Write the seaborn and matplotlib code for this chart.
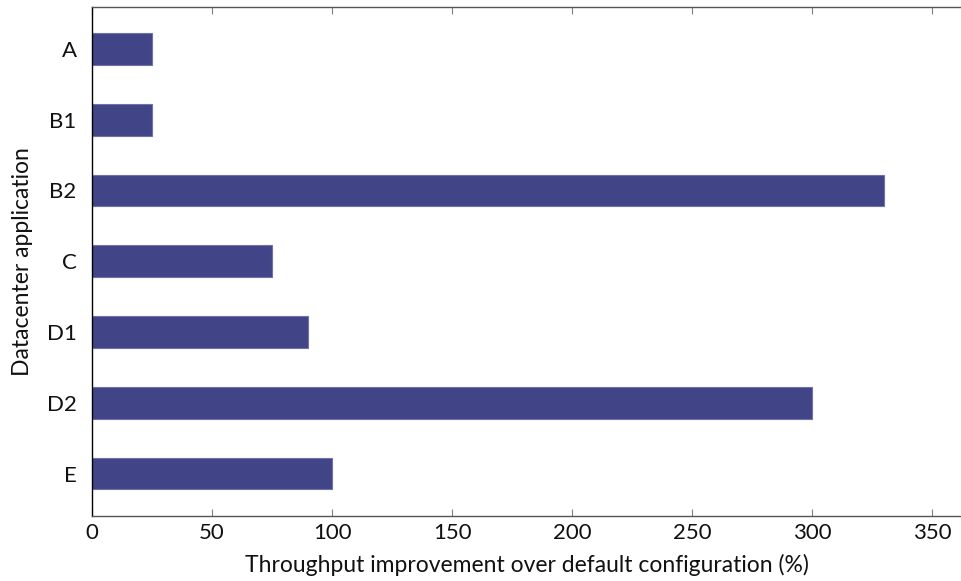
import matplotlib
matplotlib.use("Agg")
import matplotlib.pyplot as plt
import seaborn as sns
import pandas as pd

applications = ["A", "B1", "B2", "C", "D1", "D2", "E"]
improvement = [25, 25, 330, 75, 90, 300, 100]
x_ticks = [0, 50, 100, 150, 200, 250, 300, 350]

df = pd.DataFrame({"app": applications, "improvement": improvement})

sns.set_theme(style="white")
plt.rcParams["font.family"] = ["Lato", "DejaVu Sans"]

fig = plt.figure(figsize=(9.61, 5.81), dpi=100)
ax = fig.add_axes([0.0957, 0.1119, 0.9043, 0.8769])

sns.barplot(data=df, x="improvement", y="app", orient="h", color="#414587",
            saturation=1, width=0.45, edgecolor="#6e72a8", linewidth=0.8, ax=ax)

ax.set_xlim(0, 362)
ax.set_ylim(6.6, -0.6)
ax.set_xticks(x_ticks)
ax.set_xticklabels([str(t) for t in x_ticks])
ax.tick_params(axis="x", direction="in", length=5, width=0.8, color="#808080",
               top=True, bottom=True, labelsize=16, pad=5, labelcolor="#111111")
ax.tick_params(axis="y", length=0, labelsize=16, pad=11, labelcolor="#111111")

ax.spines["right"].set_visible(False)
ax.spines["left"].set_color("#000000")
ax.spines["left"].set_linewidth(1.0)
for s in ("top", "bottom"):
    ax.spines[s].set_color("#555555")
    ax.spines[s].set_linewidth(1.0)

ax.set_xlabel("Throughput improvement over default configuration (%)", fontsize=16.5,
              color="#111111", labelpad=8)
ax.set_ylabel("Datacenter application", fontsize=16.5, color="#111111", labelpad=10)

fig.savefig("out.png", dpi=100)
